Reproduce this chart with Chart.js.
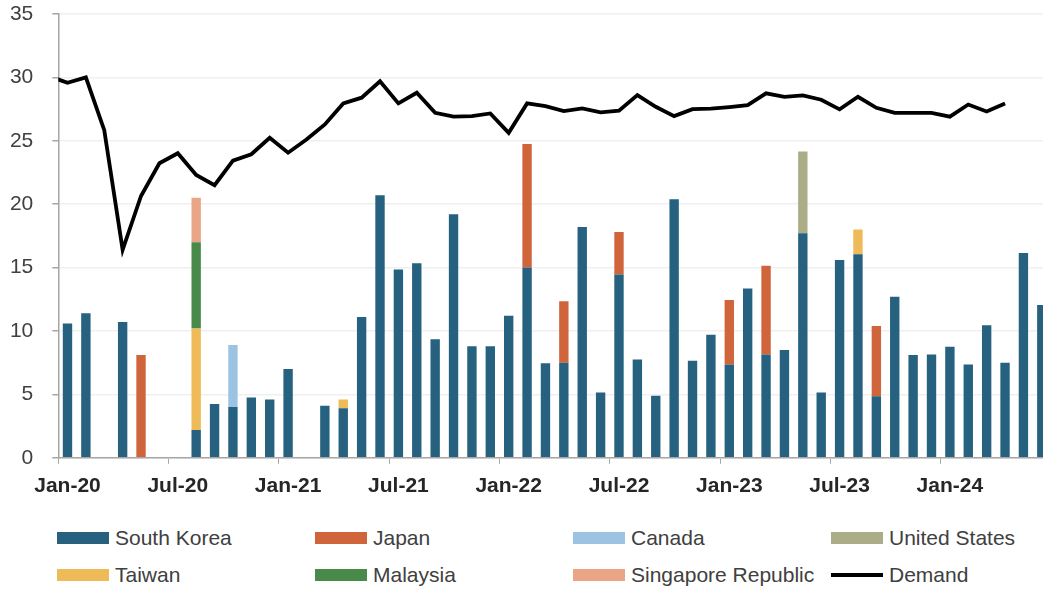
<!DOCTYPE html>
<html>
<head>
<meta charset="utf-8">
<script src="https://cdn.jsdelivr.net/npm/chart.js@4.4.1/dist/chart.umd.min.js"></script>
<style>
    html, body { margin: 0; padding: 0; background: #ffffff; overflow: hidden; }
    body { width: 1043px; height: 589px; position: relative; font-family: 'Liberation Sans', Arial, sans-serif; }
    #wrap { position: absolute; left: 0; top: 0; width: 1051px; height: 508px; }
    #legend {
        position: absolute; left: 57px; top: 525px;
        display: grid; grid-template-columns: repeat(4, 258px); grid-auto-rows: 37px;
    }
    .item { display: flex; align-items: center; height: 26px; font-size: 21px; color: #404040; white-space: nowrap; }
    .swatch { width: 52px; height: 12px; margin-right: 6px; }
    .swatch.line { height: 4px; }
</style>
</head>
<body>
<div id="wrap"><canvas id="chart"></canvas></div>
<div id="legend"></div>
<script>
// month categories, Dec-19 only carries the start of the demand line (outside the axis)
const months = [
    'Dec-19',
    'Jan-20', 'Feb-20', 'Mar-20', 'Apr-20', 'May-20', 'Jun-20', 'Jul-20', 'Aug-20', 'Sep-20', 'Oct-20', 'Nov-20', 'Dec-20',
    'Jan-21', 'Feb-21', 'Mar-21', 'Apr-21', 'May-21', 'Jun-21', 'Jul-21', 'Aug-21', 'Sep-21', 'Oct-21', 'Nov-21', 'Dec-21',
    'Jan-22', 'Feb-22', 'Mar-22', 'Apr-22', 'May-22', 'Jun-22', 'Jul-22', 'Aug-22', 'Sep-22', 'Oct-22', 'Nov-22', 'Dec-22',
    'Jan-23', 'Feb-23', 'Mar-23', 'Apr-23', 'May-23', 'Jun-23', 'Jul-23', 'Aug-23', 'Sep-23', 'Oct-23', 'Nov-23', 'Dec-23',
    'Jan-24', 'Feb-24', 'Mar-24', 'Apr-24', 'May-24', 'Jun-24'
];

const southKorea = [
    null,
    10.6, 11.4, null, 10.7, null, null, null, 2.2, 4.25, 4.0, 4.75, 4.6,
    7.0, null, 4.1, 3.9, 11.1, 20.7, 14.85, 15.35, 9.35, 19.2, 8.8, 8.8,
    11.2, 15.0, 7.45, 7.5, 18.2, 5.15, 14.45, 7.75, 4.9, 20.4, 7.65, 9.7,
    7.35, 13.35, 8.15, 8.5, 17.7, 5.15, 15.6, 16.05, 4.85, 12.7, 8.1, 8.15,
    8.75, 7.35, 10.45, 7.5, 16.15, 12.05
];
const japan = [['May-20', 8.1], ['Feb-22', 9.75], ['Apr-22', 4.85], ['Jul-22', 3.35], ['Jan-23', 5.1], ['Mar-23', 7.0], ['Sep-23', 5.55]];
const canada = [['Oct-20', 4.9]];
const unitedStates = [['May-23', 6.45]];
const taiwan = [['Aug-20', 8.0], ['Apr-21', 0.7], ['Aug-23', 1.95]];
const malaysia = [['Aug-20', 6.8]];
const singapore = [['Aug-20', 3.5]];

const demand = [
    30.1,
    29.57, 30.0, 25.84, 16.4, 20.65, 23.23, 24.02, 22.3, 21.5, 23.43, 23.94, 25.24,
    24.06, 25.1, 26.29, 27.95, 28.4, 29.69, 27.95, 28.79, 27.21, 26.9, 26.95, 27.16,
    25.63, 27.95, 27.74, 27.34, 27.55, 27.24, 27.37, 28.6, 27.68, 26.95, 27.5, 27.53,
    27.66, 27.82, 28.74, 28.47, 28.58, 28.24, 27.48, 28.47, 27.6, 27.2, 27.2, 27.2,
    26.9, 27.86, 27.31, 27.94
];

const yTicks = [0, 5, 10, 15, 20, 25, 30, 35];

const colors = {
    southKorea: '#26617f',
    japan: '#d0643a',
    canada: '#9dc3e3',
    unitedStates: '#aaad86',
    taiwan: '#efba58',
    malaysia: '#478a4a',
    singapore: '#e9a586',
    demand: '#000000'
};

const FONT = "'Liberation Sans', Arial, sans-serif";
const pairs = list => list.map(([x, y]) => ({ x, y }));
const isHalfYear = lab => lab.startsWith('Jan') || lab.startsWith('Jul');

function barSet(label, data, color) {
    return {
        type: 'bar',
        label: label,
        data: data,
        backgroundColor: color,
        borderWidth: 0,
        barPercentage: 1,
        categoryPercentage: 0.51,
        stack: 'supply',
        order: 2
    };
}

const chart = new Chart(document.getElementById('chart').getContext('2d'), {
    data: {
        labels: months,
        datasets: [
            barSet('South Korea', southKorea, colors.southKorea),
            barSet('Japan', pairs(japan), colors.japan),
            barSet('Canada', pairs(canada), colors.canada),
            barSet('United States', pairs(unitedStates), colors.unitedStates),
            barSet('Taiwan', pairs(taiwan), colors.taiwan),
            barSet('Malaysia', pairs(malaysia), colors.malaysia),
            barSet('Singapore Republic', pairs(singapore), colors.singapore),
            {
                type: 'line',
                label: 'Demand',
                data: demand,
                borderColor: colors.demand,
                borderWidth: 3.8,
                pointRadius: 0,
                tension: 0,
                fill: false,
                order: 1
            }
        ]
    },
    options: {
        responsive: true,
        maintainAspectRatio: false,
        animation: false,
        layout: { padding: { left: 10, top: 14, right: 0, bottom: 0 } },
        plugins: {
            legend: { display: false },
            tooltip: { enabled: false }
        },
        scales: {
            x: {
                type: 'category',
                min: 'Jan-20',
                max: 'Jun-24',
                stacked: true,
                offset: true,
                // labels may hang past the plot edges, as in the reference
                afterFit: s => { s.paddingLeft = 0; s.paddingRight = 0; },
                border: { color: '#a6a6a6', width: 1.5 },
                grid: {
                    offset: true,
                    drawOnChartArea: false,
                    drawTicks: true,
                    tickLength: 6,
                    tickColor: ctx => {
                        const t = ctx.tick;
                        if (!t) return '#a6a6a6';
                        return isHalfYear(months[t.value]) ? '#a6a6a6' : 'rgba(0,0,0,0)';
                    }
                },
                ticks: {
                    autoSkip: false,
                    maxRotation: 0,
                    padding: 9.5,
                    color: '#262626',
                    font: { family: FONT, size: 21, weight: 'bold' },
                    callback: function (value) {
                        const lab = months[value];
                        return isHalfYear(lab) ? lab : '';
                    }
                }
            },
            y: {
                stacked: true,
                min: 0,
                max: 35,
                afterFit: s => { s.paddingTop = 0; s.paddingBottom = 0; s.width = 48.3; },
                border: { color: '#a6a6a6', width: 1.5 },
                afterBuildTicks: axis => { axis.ticks = yTicks.map(v => ({ value: v })); },
                grid: {
                    color: '#f0f0f0',
                    lineWidth: 1.5,
                    tickLength: 6,
                    tickColor: '#a6a6a6'
                },
                ticks: {
                    padding: 19,
                    color: '#404040',
                    font: { family: FONT, size: 21 }
                }
            }
        }
    }
});

// legend in a 4 x 2 grid like the reference
const legendBox = document.getElementById('legend');
chart.data.datasets.forEach(ds => {
    const item = document.createElement('div');
    item.className = 'item';
    const sw = document.createElement('span');
    sw.className = ds.type === 'line' ? 'swatch line' : 'swatch';
    sw.style.background = ds.type === 'line' ? ds.borderColor : ds.backgroundColor;
    const txt = document.createElement('span');
    txt.textContent = ds.label;
    item.appendChild(sw);
    item.appendChild(txt);
    legendBox.appendChild(item);
});
</script>
</body>
</html>
